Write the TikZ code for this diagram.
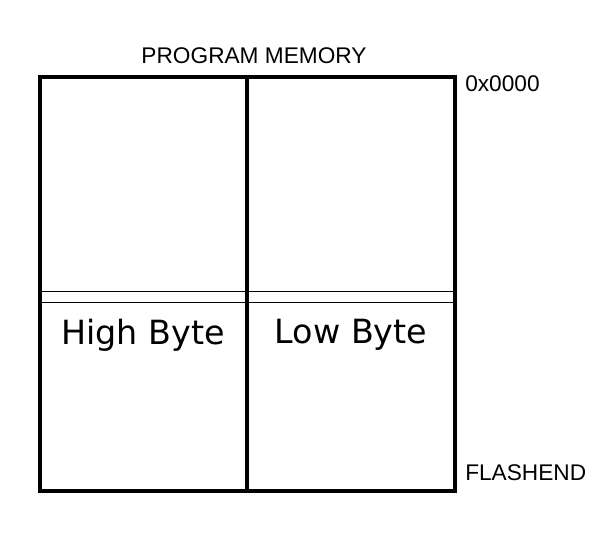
\documentclass[tikz,border=0pt]{standalone}
\usepackage{fontspec}
\setmainfont{Liberation Sans}
\newfontfamily\bytefont{DejaVu Sans}
\usepackage{tikz}
\usetikzlibrary{positioning}

\tikzset{
    frame/.style = {line width = 2.5pt, line cap = rect},
    split/.style = {line width = 1.2pt},
    label/.style = {inner sep = 0pt, font = \fontsize{17}{20}\selectfont},
    cell/.style = {inner sep = 0pt, font = \bytefont\fontsize{25}{30}\selectfont}
}

\begin{document}
\begin{tikzpicture}[x = 0.75pt, y = -0.75pt]

    \useasboundingbox (0,0) rectangle (610,549);

    \coordinate (nw) at (40,77);
    \coordinate (se) at (455,491);
    \coordinate (mtop) at (247,77);
    \coordinate (mbot) at (247,491);

    \draw[frame] (nw) rectangle (se);
    \draw[frame] (mtop) -- (mbot);

    \draw[split] (40,291.5) coordinate (s1) -- (455,291.5) coordinate (s2);
    \draw[split] (40,302.5) coordinate (s3) -- (455,302.5) coordinate (s4);

    \node[label] (title) at (254,56) {PROGRAM MEMORY};
    \node[label, anchor = west] (start) at (465,84) {0x0000};
    \node[label, anchor = west] (end) at (465,473) {FLASHEND};

    \node[cell] (high) at (143,335) {High Byte};
    \node[cell] (low) at (351,335) {Low Byte};

\end{tikzpicture}
\end{document}
